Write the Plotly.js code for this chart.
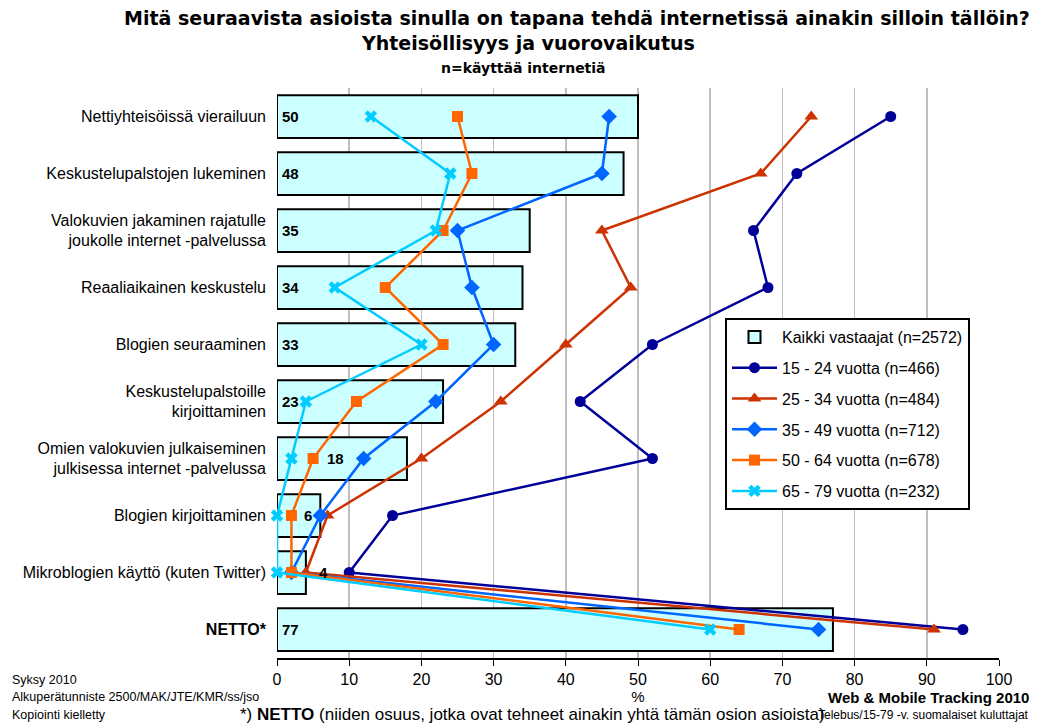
<!DOCTYPE html>
<html><head><meta charset="utf-8">
<script src="https://cdn.plot.ly/plotly-3.0.1.min.js"></script>
<style>body{margin:0;background:#fff}#c{width:1038px;height:724px}</style>
</head><body><div id="c"></div>
<script>
const categories = [
  "Nettiyhteisöissä vierailuun",
  "Keskustelupalstojen lukeminen",
  "Valokuvien jakaminen rajatulle<br>joukolle internet -palvelussa",
  "Reaaliaikainen keskustelu",
  "Blogien seuraaminen",
  "Keskustelupalstoille<br>kirjoittaminen",
  "Omien valokuvien julkaiseminen<br>julkisessa internet -palvelussa",
  "Blogien kirjoittaminen",
  "Mikroblogien käyttö (kuten Twitter)",
  "<b>NETTO*</b>"
];
const kaikki = [50, 48, 35, 34, 33, 23, 18, 6, 4, 77];
const age15_24 = [85, 72, 66, 68, 52, 42, 52, 16, 10, 95];
const age25_34 = [74, 67, 45, 49, 40, 31, 20, 7, 4, 91];
const age35_49 = [46, 45, 25, 27, 30, 22, 12, 6, 2, 75];
const age50_64 = [25, 27, 23, 15, 23, 11, 5, 2, 2, 64];
const age65_79 = [13, 24, 22, 8, 20, 4, 2, 0, 0, 60];
const seriesNames = [
  "Kaikki vastaajat (n=2572)",
  "15 - 24 vuotta (n=466)",
  "25 - 34 vuotta (n=484)",
  "35 - 49 vuotta (n=712)",
  "50 - 64 vuotta (n=678)",
  "65 - 79 vuotta (n=232)"
];
const xTicks = [0,10,20,30,40,50,60,70,80,90,100];
// label pixel shifts (style only)
const labelShift = [3,3,3,3,3,3,48,25,40,3];

const FONT = "Arial, 'Liberation Sans', sans-serif";
const WIDE = "'DejaVu Sans', Arial, sans-serif";
const traces = [];
traces.push({
  type: 'bar', orientation: 'h', y: categories, x: kaikki, name: seriesNames[0],
  width: 0.75, marker: {color: '#CCFFFF', line: {color: '#000', width: 2}},
  legendgroup: 'g0', hoverinfo: 'x'
});
const lineData = [age15_24, age25_34, age35_49, age50_64, age65_79];
const colors = ['#000099', '#CC3300', '#0066FF', '#FF6600', '#00CCFF'];
const symbols = ['circle', 'triangle-up', 'diamond', 'square', 'x'];
const sizes = [11, 12, 12, 11, 11];
lineData.forEach((d, i) => {
  traces.push({
    type: 'scatter', mode: 'lines+markers', y: categories, x: d, name: seriesNames[i+1],
    line: {color: colors[i], width: 2.5},
    marker: {symbol: symbols[i], size: sizes[i], color: colors[i], line: {width: 0}},
    legendgroup: 'g' + (i+1), cliponaxis: false
  });
});

const annotations = [];
categories.forEach((c, i) => {
  annotations.push({
    x: 0, y: c, xref: 'x', yref: 'y', text: '<b>' + kaikki[i] + '</b>',
    showarrow: false, xanchor: 'left', xshift: labelShift[i],
    font: {family: FONT, size: 15, color: '#000'}
  });
});
const foot = (text, x, y, anchor, size, bold, fam) => annotations.push({
  text: bold ? '<b>' + text + '</b>' : text, x: x, y: y, xref: 'paper', yref: 'paper',
  xanchor: anchor, yanchor: 'middle', showarrow: false,
  font: {family: fam || FONT, size: size, color: '#000'}
});
// paper coords: plot area l=277 (px), width 722; t=88, height 570
const px = v => (v - 277) / 722;
const py = v => (658 - v) / 570;
foot('Syksy 2010', px(10), py(680), 'left', 12.5);
foot('Alkuperätunniste 2500/MAK/JTE/KMR/ss/jso', px(10), py(697), 'left', 12.5);
foot('Kopiointi kielletty', px(10), py(715), 'left', 12.5);
foot('Web & Mobile Tracking 2010', px(1031), py(697), 'right', 15, true);
foot('Telebus/15-79 -v. suomalaiset kuluttajat', px(1031), py(715), 'right', 12);
annotations.push({
  text: '*) <b>NETTO</b> (niiden osuus, jotka ovat tehneet ainakin yhtä tämän osion asioista)',
  x: px(238), y: py(714), xref: 'paper', yref: 'paper', xanchor: 'left', yanchor: 'middle',
  showarrow: false, font: {family: FONT, size: 17, color: '#000'}
});
annotations.push({
  text: '<b>Mitä seuraavista asioista sinulla on tapana tehdä internetissä ainakin silloin tällöin?</b>',
  x: px(577), y: py(18), xref: 'paper', yref: 'paper', xanchor: 'center', yanchor: 'middle',
  showarrow: false, font: {family: WIDE, size: 19, color: '#000'}
});
annotations.push({
  text: '<b>Yhteisöllisyys ja vuorovaikutus</b>',
  x: px(528), y: py(43), xref: 'paper', yref: 'paper', xanchor: 'center', yanchor: 'middle',
  showarrow: false, font: {family: WIDE, size: 19, color: '#000'}
});
annotations.push({
  text: '<b>n=käyttää internetiä</b>',
  x: px(523), y: py(68), xref: 'paper', yref: 'paper', xanchor: 'center', yanchor: 'middle',
  showarrow: false, font: {family: WIDE, size: 14, color: '#000'}
});

const layout = {
  width: 1038, height: 724,
  margin: {l: 277, r: 39, t: 88, b: 66},
  paper_bgcolor: '#fff', plot_bgcolor: '#fff',
  font: {family: FONT, size: 13, color: '#000'},
  barmode: 'overlay',
  showlegend: true,
  legend: {
    x: px(725), y: py(318), xanchor: 'left', yanchor: 'top',
    bgcolor: '#fff', bordercolor: '#000', borderwidth: 2,
    font: {family: FONT, size: 16, color: '#000'},
    tracegroupgap: 7, traceorder: 'grouped', itemwidth: 45
  },
  xaxis: {
    range: [0, 100], tickvals: xTicks, ticktext: xTicks.map(String),
    showgrid: true, gridcolor: '#BFBFBF', gridwidth: 1.5,
    zeroline: false, showline: true, linecolor: '#000', linewidth: 2,
    ticks: 'outside', ticklen: 6, tickcolor: '#000', tickwidth: 1,
    tickfont: {family: FONT, size: 16},
    title: {text: '%', font: {family: FONT, size: 15}, standoff: 2},
    fixedrange: true
  },
  yaxis: {
    type: 'category', categoryorder: 'array', categoryarray: categories,
    range: [9.5, -0.5], autorange: false, showgrid: false, zeroline: false,
    showline: false, ticks: '', ticklabelstandoff: 10,
    tickfont: {family: FONT, size: 16},
    fixedrange: true
  },
  annotations: annotations
};
Plotly.newPlot('c', traces, layout, {displayModeBar: false, staticPlot: true});
</script>
</body></html>
